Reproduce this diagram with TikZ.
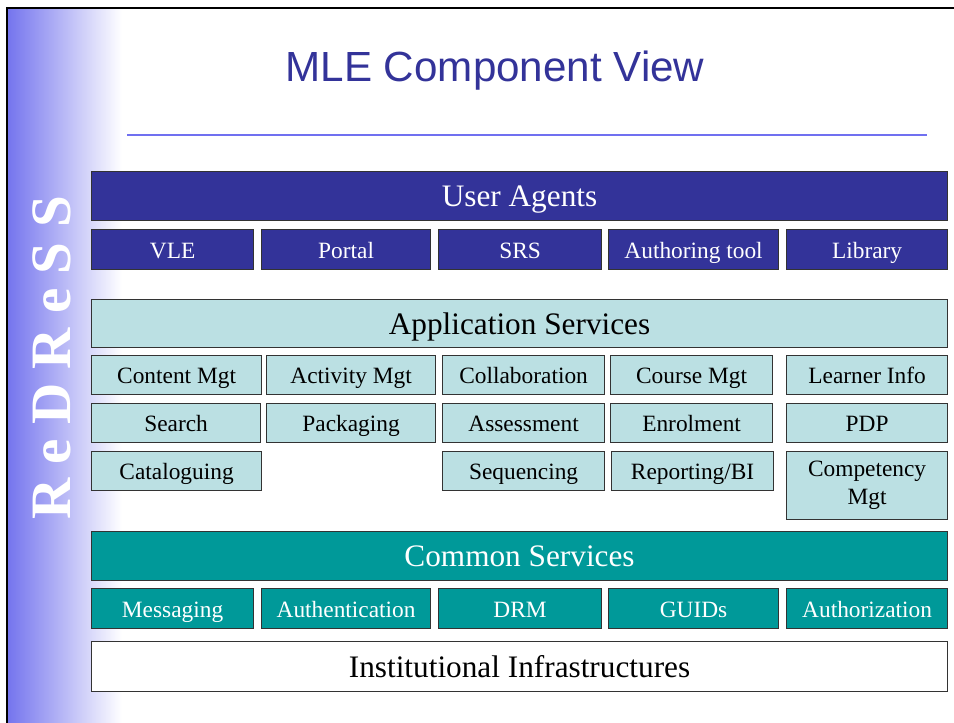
\documentclass[tikz,border=0pt]{standalone}
\usepackage{fontspec}
\setmainfont{Liberation Serif}
\newfontfamily\titlefont{Liberation Sans}
\usepackage{xcolor}
\usepackage{tikz}
\usetikzlibrary{positioning, calc}
\definecolor{agentblue}{HTML}{333399}
\definecolor{servlight}{HTML}{BBE0E3}
\definecolor{commonteal}{HTML}{009999}
\definecolor{sidebar}{HTML}{7575EE}
\definecolor{ruleblue}{HTML}{7070F0}

\begin{document}
\begin{tikzpicture}[x=0.02cm, y=-0.02cm,
  layer/.style={rectangle, draw=black!80, line width=0.7pt, anchor=north west, inner sep=0pt,
    minimum width=17.12cm, text height=12.3pt, text depth=0pt, font=\fontsize{17.8}{20}\selectfont},
  item/.style={rectangle, draw=black!80, line width=0.7pt, anchor=north west, inner sep=0pt,
    align=center, font=\fontsize{13.3}{16}\selectfont},
  agent/.style={item, fill=agentblue, text=white, minimum height=0.8cm, text height=9.6pt, text depth=0pt},
  appsvc/.style={item, fill=servlight, text=black, minimum height=0.78cm, text height=9.6pt, text depth=0pt},
  common/.style={item, fill=commonteal, text=white, minimum height=0.8cm, text height=9.6pt, text depth=0pt}
]
  \useasboundingbox (0,0) rectangle (954,723);
  % side bar and frame
  \shade[left color=sidebar, right color=white] (8,8) rectangle (122,723);
  \draw[line width=1.2pt] (7,723) -- (7,8) -- (954,8);
  \node[text=white, rotate=90, font=\fontsize{32.5}{34}\selectfont\bfseries] (brand) at (52,358) {R e D R e S S};

  % title
  \node[text=agentblue, anchor=base, font=\titlefont\fontsize{24}{28}\selectfont] (title) at (495,82) {MLE Component View};
  \draw[ruleblue, line width=1.1pt] (127,135) -- (927,135);

  % user agents
  \node[layer, fill=agentblue, text=white, minimum height=0.98cm] (ua) at (91,171) {User Agents};
  \node[agent, minimum width=3.24cm] (vle) at (91,229) {VLE};
  \node[agent, minimum width=3.38cm] (portal) at (261,229) {Portal};
  \node[agent, minimum width=3.26cm] (srs) at (438,229) {SRS};
  \node[agent, minimum width=3.40cm] (author) at (608,229) {Authoring tool};
  \node[agent, minimum width=3.22cm] (library) at (786,229) {Library};

  % application services
  \node[layer, fill=servlight, minimum height=0.96cm] (app) at (91,299) {Application Services};
  \node[appsvc, minimum width=3.40cm] (content) at (91,355) {Content Mgt};
  \node[appsvc, minimum width=3.38cm] (activity) at (266,355) {Activity Mgt};
  \node[appsvc, minimum width=3.24cm] (collab) at (442,355) {Collaboration};
  \node[appsvc, minimum width=3.24cm] (course) at (610,355) {Course Mgt};
  \node[appsvc, minimum width=3.22cm] (learner) at (786,355) {Learner Info};

  \node[appsvc, minimum width=3.38cm] (search) at (91,403) {Search};
  \node[appsvc, minimum width=3.38cm] (packaging) at (266,403) {Packaging};
  \node[appsvc, minimum width=3.24cm] (assess) at (442,403) {Assessment};
  \node[appsvc, minimum width=3.24cm] (enrol) at (610,403) {Enrolment};
  \node[appsvc, minimum width=3.22cm] (pdp) at (786,403) {PDP};

  \node[appsvc, minimum width=3.40cm] (catalog) at (91,451) {Cataloguing};
  \node[appsvc, minimum width=3.24cm] (sequence) at (442,451) {Sequencing};
  \node[appsvc, minimum width=3.24cm] (report) at (611,451) {Reporting/BI};
  \node[item, fill=servlight, minimum width=3.22cm, minimum height=1.36cm] (compet) at (786,451) {Competency\\Mgt};

  % common services
  \node[layer, fill=commonteal, text=white, minimum height=0.98cm] (cs) at (91,531) {Common Services};
  \node[common, minimum width=3.24cm] (msg) at (91,588) {Messaging};
  \node[common, minimum width=3.38cm] (authn) at (261,588) {Authentication};
  \node[common, minimum width=3.26cm] (drm) at (438,588) {DRM};
  \node[common, minimum width=3.40cm] (guid) at (608,588) {GUIDs};
  \node[common, minimum width=3.22cm] (authz) at (786,588) {Authorization};

  % infrastructure
  \node[layer, fill=white, minimum height=1.0cm] (infra) at (91,641) {Institutional Infrastructures};
\end{tikzpicture}
\end{document}
